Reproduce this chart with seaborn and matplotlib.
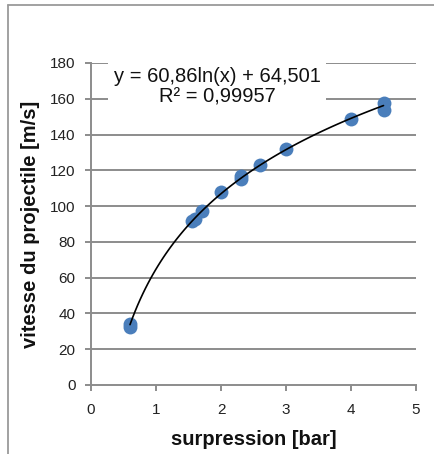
import numpy as np
import pandas as pd
import matplotlib
matplotlib.use("Agg")
import matplotlib.pyplot as plt
import seaborn as sns
from matplotlib.lines import Line2D

# Data
pressure_bar = [0.6, 0.6, 1.55, 1.6, 1.7, 2.0, 2.3, 2.3, 2.6, 3.0, 4.0, 4.5, 4.5]
speed_ms = [32.5, 34.0, 91.5, 93.0, 97.5, 108.0, 115.0, 117.0, 123.0, 132.0, 148.5, 157.5, 153.5]
x_ticks = [0, 1, 2, 3, 4, 5]
y_ticks = [0, 20, 40, 60, 80, 100, 120, 140, 160, 180]
equation_text = "y = 60,86ln(x) + 64,501\nR² = 0,99957"

df = pd.DataFrame({"surpression": pressure_bar, "vitesse": speed_ms})

sns.set_style("white")
plt.rcParams["font.family"] = ["Liberation Sans", "DejaVu Sans"]

fig = plt.figure(figsize=(4.34, 4.54), dpi=100)
ax = fig.add_axes([91/434, 1-385/454, (416-91)/434, (385-63)/454])

grid_c = "#8c8c8c"
for yv in y_ticks[1:]:
    ax.axhline(yv, color=grid_c, lw=1.4, zorder=0)

sns.regplot(data=df, x="surpression", y="vitesse", logx=True, ci=None, truncate=True,
            ax=ax,
            scatter_kws=dict(s=100, color="#4a7ebb", edgecolor="#4a7ebb", linewidths=0, alpha=1, zorder=3),
            line_kws=dict(color="black", lw=1.2, zorder=4))

ax.set_xlim(0, 5)
ax.set_ylim(0, 180)
ax.set_xticks(x_ticks)
ax.set_yticks(y_ticks)
ax.set_xticklabels([str(v) for v in x_ticks])
ax.set_yticklabels([str(v) for v in y_ticks])

for side in ["top", "right"]:
    ax.spines[side].set_visible(False)
for side in ["left", "bottom"]:
    ax.spines[side].set_color(grid_c)
    ax.spines[side].set_linewidth(1.4)
ax.tick_params(axis="both", direction="out", length=4, width=1.4, color=grid_c,
               labelsize=11, labelcolor="#222222", left=True, bottom=True)
ax.tick_params(axis="y", pad=7)
ax.tick_params(axis="x", pad=9)

ax.set_xlabel("surpression [bar]", fontsize=14.5, fontweight="bold", labelpad=9, color="#111111")
ax.set_ylabel("vitesse du projectile [m/s]", fontsize=14.5, fontweight="bold", labelpad=7, color="#111111")

ax.text(0.388, 0.925, equation_text, transform=ax.transAxes, ha="center", va="center",
        multialignment="center", fontsize=14.5, color="#111111", linespacing=1.1, zorder=5,
        bbox=dict(facecolor="white", edgecolor="none", pad=4))

# outer frame (partial, as in the reference)
fig.add_artist(Line2D([8/434, 8/434], [0, 1-5/454], transform=fig.transFigure, color="#9a9a9a", lw=1.3))
fig.add_artist(Line2D([8/434, 1], [1-5/454, 1-5/454], transform=fig.transFigure, color="#9a9a9a", lw=1.3))

fig.savefig("out.png", dpi=100)
